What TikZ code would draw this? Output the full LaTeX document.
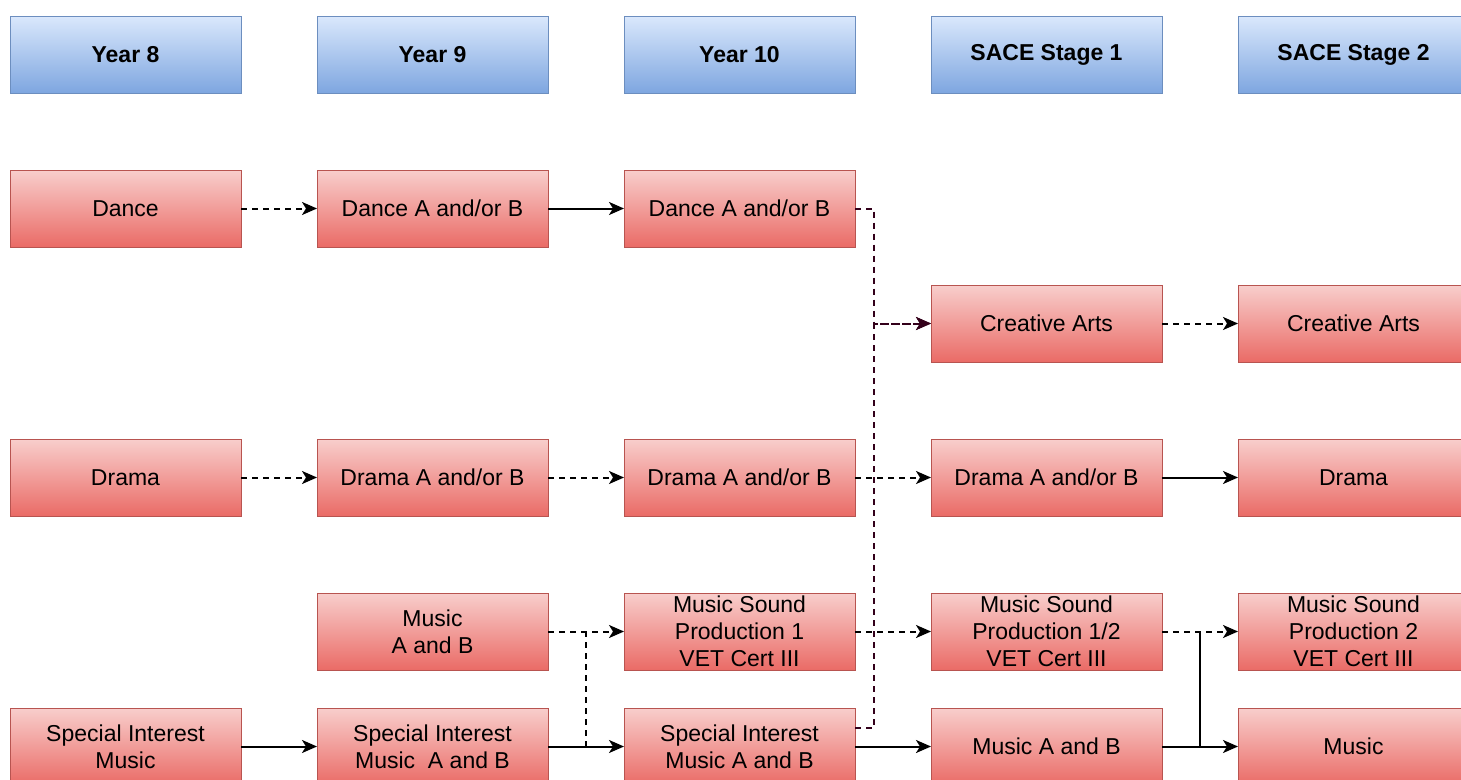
\documentclass[tikz,border=0pt]{standalone}
\usepackage{fontspec}
\setmainfont{Liberation Sans}
\usetikzlibrary{positioning,arrows.meta}
\definecolor{hdrtop}{HTML}{DAE8FC}
\definecolor{hdrbot}{HTML}{7EA6E0}
\definecolor{hdrline}{HTML}{6C8EBF}
\definecolor{subtop}{HTML}{F8CECC}
\definecolor{subbot}{HTML}{EA6B66}
\definecolor{subline}{HTML}{B85450}
\definecolor{darkpath}{HTML}{33001A}

\begin{document}
\begin{tikzpicture}[x=1pt, y=-1pt, node distance={77pt and 76pt},
  box/.style = {minimum width=231pt, minimum height=77pt, inner sep=0pt, outer sep=0pt, line width=1pt, align=center, font=\fontsize{23}{27}\selectfont},
  year/.style = {box, draw=hdrline, top color=hdrtop, bottom color=hdrbot, font=\fontsize{23}{27}\selectfont\bfseries},
  subj/.style = {box, draw=subline, top color=subtop, bottom color=subbot},
  link/.style = {line width=2pt, -{Stealth[length=15pt,width=13pt,inset=4pt]}},
  maybe/.style = {link, dash pattern=on 6pt off 5pt}]
\useasboundingbox (0,0) rectangle (1461,779);

% year headers
\node[year] (y8) at (125.5,54.5) {Year 8};
\node[year] (y9) [right=of y8] {Year 9};
\node[year] (y10) [right=of y9] {Year 10};
\node[year] (s1) [right=of y10] {SACE Stage 1};
\node[year] (s2) [right=of s1] {SACE Stage 2};

% subjects
\node[subj] (dance8) [below=of y8] {Dance};
\node[subj] (dance9) [right=of dance8] {Dance A and/or B};
\node[subj] (dance10) [right=of dance9] {Dance A and/or B};
\node[subj] (arts1) [below=192pt of s1] {Creative Arts};
\node[subj] (arts2) [right=of arts1] {Creative Arts};
\node[subj] (drama8) [below=192pt of dance8] {Drama};
\node[subj] (drama9) [right=of drama8] {Drama A and/or B};
\node[subj] (drama10) [right=of drama9] {Drama A and/or B};
\node[subj] (drama1) [right=of drama10] {Drama A and/or B};
\node[subj] (drama2) [right=of drama1] {Drama};
\node[subj] (music9) [below=of drama9] {Music\\A and B};
\node[subj] (sound10) [right=of music9] {Music Sound\\Production 1\\ VET Cert III};
\node[subj] (sound1) [right=of sound10] {Music Sound\\Production 1/2\\VET Cert III};
\node[subj] (sound2) [right=of sound1] {Music Sound\\Production 2\\VET Cert III};
\node[subj] (spec8) [below=192pt of drama8] {Special Interest\\Music};
\node[subj] (spec9) [right=of spec8] {Special Interest\\Music\ \ A and B};
\node[subj] (spec10) [right=of spec9] {Special Interest\\Music A and B};
\node[subj] (music1) [right=of spec10] {Music A and B};
\node[subj] (music2) [right=of music1] {Music};

\coordinate (jB) at (586,0);
\coordinate (jA) at (874,0);
\coordinate (jC) at (1200,0);

% dance and arts
\draw[maybe] (dance8) -- (dance9);
\draw[link] (dance9) -- (dance10);
\draw[maybe, darkpath] (dance10.east) -| (jA |- arts1.west) -- (arts1.west);
\draw[maybe, darkpath] ([yshift=19pt]spec10.east) -| (jA |- arts1.west) -- (arts1.west);
\draw[maybe] (arts1) -- (arts2);

% drama
\draw[maybe] (drama8) -- (drama9);
\draw[maybe] (drama9) -- (drama10);
\draw[maybe] (drama10) -- (drama1);
\draw[link] (drama1) -- (drama2);

% music
\draw[maybe] (music9) -- (sound10);
\draw[maybe, -] (jB |- spec9.east) -- (jB |- music9.east);
\draw[maybe] (sound10) -- (sound1);
\draw[maybe] (sound1) -- (sound2);
\draw[link] (spec8) -- (spec9);
\draw[link] (spec9) -- (spec10);
\draw[link] (spec10) -- (music1);
\draw[link] (music1) -- (music2);
\draw[link, -] (jC |- sound1.east) -- (jC |- music1.east);
\end{tikzpicture}
\end{document}
